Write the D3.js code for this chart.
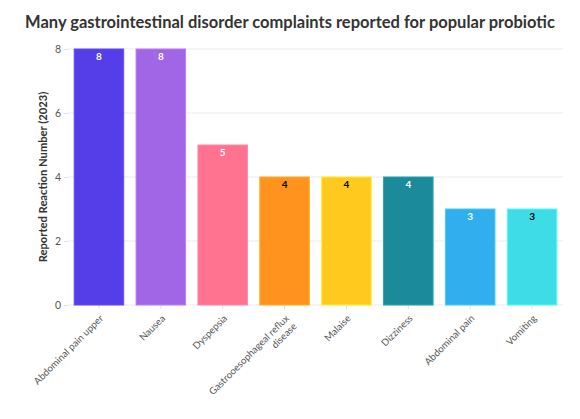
<!DOCTYPE html>
<html><head><meta charset="utf-8">
<script src="https://cdn.jsdelivr.net/npm/d3@7"></script>
<style>body{margin:0;background:#fff}svg{display:block}</style>
</head><body>
<svg id="c" width="580" height="419"></svg>
<script>
const categories = ["Abdominal pain upper","Nausea","Dyspepsia","Gastrooesophageal reflux\ndisease","Malaise","Dizziness","Abdominal pain","Vomiting"];
const values = [8,8,5,4,4,4,3,3];
const colors = ["#553de8","#a066e6","#ff7390","#ff931e","#ffc91e","#1b8a9a","#31aeee","#3edce6"];
const labelColors = ["#fff","#fff","#fff","#000","#000","#fff","#fff","#000"];
const yTicks = [0,2,4,6,8];
const title = "Many gastrointestinal disorder complaints reported for popular probiotic";
const yTitle = "Reported Reaction Number (2023)";

const svg = d3.select("#c");
const m = {l:68, r:17, t:49, b:114};
const W = 580, H = 419;
const x = d3.scaleBand().domain(categories).range([m.l, W-m.r]).paddingInner(0.2).paddingOuter(0.1);
const y = d3.scaleLinear().domain([0,8]).range([H-m.b, m.t]);
const font = "Lato, 'Open Sans', sans-serif";

// grid
svg.append("g").selectAll("line").data(yTicks).join("line")
  .attr("x1", m.l).attr("x2", W-m.r).attr("y1", d=>y(d)).attr("y2", d=>y(d))
  .attr("stroke", "#ebebeb").attr("stroke-width", 1);

// y axis
const ya = svg.append("g").attr("transform", `translate(${m.l},0)`)
  .call(d3.axisLeft(y).tickValues(yTicks).tickSize(4).tickPadding(3));
ya.select(".domain").remove();
ya.selectAll("line").attr("stroke","#e0e0e0");
ya.selectAll("text").attr("fill","#555").style("font-family",font).style("font-size","10.5px");

// x axis ticks
const xa = svg.append("g").attr("transform", `translate(0,${H-m.b})`)
  .call(d3.axisBottom(x).tickSize(4).tickFormat(""));
xa.select(".domain").remove();
xa.selectAll("line").attr("stroke","#e0e0e0");

// bars
svg.append("g").selectAll("rect").data(values).join("rect")
  .attr("x", (d,i)=>x(categories[i])).attr("width", x.bandwidth())
  .attr("y", d=>y(d)).attr("height", d=>y(0)-y(d))
  .attr("fill", (d,i)=>colors[i])
  .attr("stroke", (d,i)=>d3.color(colors[i]).brighter(0.5))
  .attr("stroke-width", 1);

// value labels
svg.append("g").selectAll("text").data(values).join("text")
  .attr("x", (d,i)=>x(categories[i])+x.bandwidth()/2)
  .attr("y", d=>y(d)+10.5)
  .attr("text-anchor","middle")
  .attr("fill", (d,i)=>labelColors[i])
  .style("font-family",font).style("font-size","10px").style("font-weight","bold")
  .text(d=>d);

// x labels
const xl = svg.append("g").selectAll("text").data(categories).join("text")
  .attr("transform", d=>`translate(${x(d)+x.bandwidth()/2+5},${H-m.b+14}) rotate(-45)`)
  .attr("text-anchor","end")
  .attr("fill","#555")
  .style("font-family",font).style("font-size","9.7px");
xl.each(function(d){
  const lines = d.split("\n");
  d3.select(this).selectAll("tspan").data(lines).join("tspan")
    .attr("x",0).attr("dy",(l,i)=>i===0?0:"1.15em").text(l=>l);
});

// title
svg.append("text").attr("x", 290).attr("y", 28).attr("text-anchor","middle")
  .attr("fill","#333").style("font-family",font).style("font-size","16.5px").style("font-weight","bold")
  .text(title);

// y title
svg.append("text").attr("transform", `translate(47,${(y(0)+y(8))/2}) rotate(-90)`)
  .attr("text-anchor","middle").attr("fill","#333")
  .style("font-family",font).style("font-size","11.2px").style("font-weight","bold")
  .text(yTitle);
</script>
</body></html>
